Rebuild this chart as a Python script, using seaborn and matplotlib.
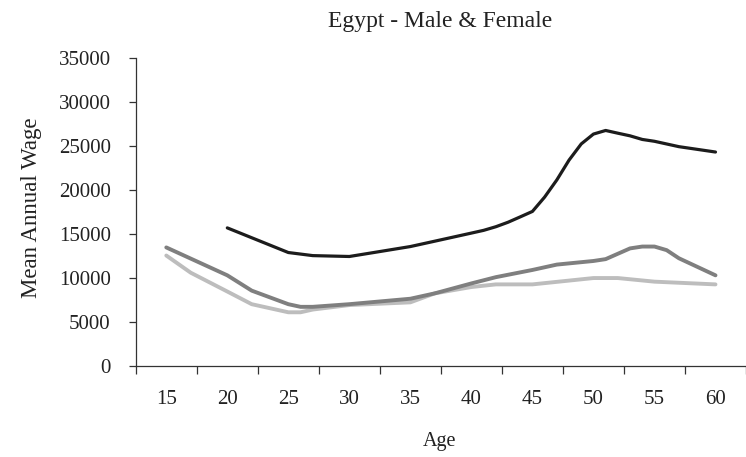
import matplotlib
matplotlib.use("Agg")
import matplotlib.pyplot as plt
import seaborn as sns
import pandas as pd
import numpy as np

# Data
ages_a = [20, 25, 27, 30, 32, 35, 37, 40, 41, 42, 43, 44, 45, 46, 47, 48, 49, 50, 51, 52, 53, 54, 55, 57, 60]
wage_a = [15700, 12900, 12550, 12450, 12900, 13580, 14190, 15110, 15420, 15830, 16340, 16950, 17570,
          19200, 21150, 23400, 25240, 26360, 26770, 26460, 26160, 25750, 25540, 24930, 24320]

ages_b = [15, 20, 22, 25, 26, 27, 30, 35, 37, 40, 42, 45, 47, 50, 51, 53, 54, 55, 56, 57, 60]
wage_b = [13480, 10310, 8570, 7030, 6730, 6730, 7030, 7650, 8260, 9390, 10100, 10920, 11530, 11940,
          12150, 13370, 13580, 13580, 13170, 12250, 10310]

ages_c = [15, 17, 20, 22, 25, 26, 27, 30, 35, 37, 40, 42, 45, 50, 52, 55, 60]
wage_c = [12560, 10610, 8470, 7030, 6110, 6110, 6420, 6930, 7240, 8260, 8980, 9280, 9280, 10000,
          10000, 9590, 9280]

series_names = ["Series A", "Series B", "Series C"]
tick_ages = [15, 20, 25, 30, 35, 40, 45, 50, 55, 60]
y_ticks = [0, 5000, 10000, 15000, 20000, 25000, 30000, 35000]

df = pd.concat([
    pd.DataFrame({"Age": ages_a, "Wage": wage_a, "Series": series_names[0]}),
    pd.DataFrame({"Age": ages_b, "Wage": wage_b, "Series": series_names[1]}),
    pd.DataFrame({"Age": ages_c, "Wage": wage_c, "Series": series_names[2]}),
])

sns.set_theme(style="white")
plt.rcParams["font.family"] = ["Liberation Serif", "DejaVu Serif"]

fig = plt.figure(figsize=(7.46, 4.57), dpi=100)
ax = fig.add_axes([0.182, 0.199, 0.818, 0.674])

palette = {series_names[0]: "#1c1c1c", series_names[1]: "#7f7f7f", series_names[2]: "#bdbdbd"}
widths = {series_names[0]: 2.3, series_names[1]: 2.8, series_names[2]: 2.8}
for name in [series_names[2], series_names[1], series_names[0]]:
    sub = df[df["Series"] == name]
    sns.lineplot(data=sub, x="Age", y="Wage", color=palette[name], linewidth=widths[name],
                 ax=ax, legend=False, sort=True)

ax.set_xlim(12.5, 61.7)
ax.set_ylim(0, 35000)
ax.set_yticks(y_ticks)
ax.set_yticklabels([str(v) for v in y_ticks], fontsize=15, color="#222222")
ax.set_xticks(tick_ages)
ax.set_xticklabels([str(v) for v in tick_ages], fontsize=15, color="#222222")
ax.set_xticks(np.arange(12.5, 62.6, 5), minor=True)
ax.tick_params(axis="x", which="major", length=0, pad=17)
ax.tick_params(axis="x", which="minor", length=6, width=0.9, color="#333333", direction="out", bottom=True)
ax.tick_params(axis="y", which="major", length=5, width=0.9, color="#333333", direction="out", left=True, pad=13)

for s in ["top", "right"]:
    ax.spines[s].set_visible(False)
for s in ["left", "bottom"]:
    ax.spines[s].set_color("#333333")
    ax.spines[s].set_linewidth(0.9)

ax.set_xlabel("Age", fontsize=14.5, color="#222222")
ax.xaxis.label.set_va("center")
ax.xaxis.set_label_coords((440 - 136) / 610, -(441 - 366) / 308)
ax.set_ylabel("Mean Annual Wage", fontsize=16.5, color="#222222")
ax.yaxis.label.set_va("center")
ax.yaxis.set_label_coords((32 - 136) / 610, (366 - 208) / 308)
fig.text(440 / 746, 1 - 21 / 457, "Egypt - Male & Female", ha="center", va="center",
         fontsize=17, color="#222222")

fig.savefig("out.png", dpi=100)
